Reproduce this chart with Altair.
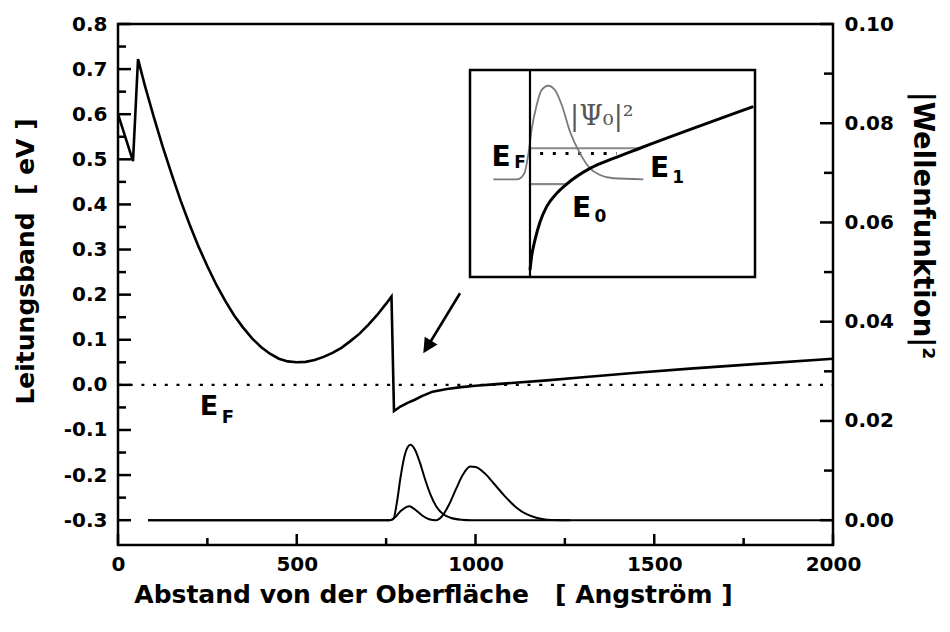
import altair as alt
import pandas as pd

# ---------------- data ----------------
# conduction band edge (left axis, eV) vs distance (Angstrom)
band_x = [0, 42, 56, 75, 100, 125, 150, 175, 200, 225, 250, 275, 300, 325, 350, 375, 400,
          425, 450, 475, 500, 525, 550, 575, 600, 625, 650, 675, 700, 725, 750, 765, 772,
          790, 810, 830, 850, 880, 920, 960, 1000, 1050, 1100, 1200, 1300, 1450, 1600, 1800, 2000]
band_y = [0.600, 0.496, 0.722, 0.664, 0.594, 0.528, 0.467, 0.409, 0.356, 0.307, 0.263, 0.222,
          0.186, 0.154, 0.127, 0.103, 0.084, 0.069, 0.058, 0.052, 0.050, 0.051, 0.055, 0.062,
          0.071, 0.082, 0.097, 0.113, 0.133, 0.155, 0.180, 0.196, -0.058, -0.048, -0.040,
          -0.033, -0.025, -0.015, -0.009, -0.005, -0.002, 0.001, 0.004, 0.010, 0.017, 0.027,
          0.036, 0.047, 0.058]

# |wave function|^2 (right axis)
psi0_x = [84, 760, 770, 780, 790, 800, 810, 818, 830, 845, 860, 875, 890, 910, 930, 960, 990, 2000]
psi0_y = [0, 0, 0.0002, 0.0035, 0.0085, 0.0125, 0.0147, 0.0152, 0.0143, 0.0115, 0.0080,
          0.0050, 0.0028, 0.0012, 0.0005, 0.0001, 0, 0]
psi1_x = [84, 760, 775, 790, 805, 815, 830, 850, 870, 890, 905, 925, 945, 965, 985, 1000,
          1025, 1050, 1080, 1110, 1140, 1170, 1200, 1265]
psi1_y = [0, 0, 0.0006, 0.0018, 0.0026, 0.0028, 0.0022, 0.0010, 0.0002, 0.0, 0.0007, 0.0030,
          0.0062, 0.0092, 0.0108, 0.0107, 0.0095, 0.0075, 0.0050, 0.0028, 0.0013, 0.0005,
          0.0001, 0.0]

# Fermi level
ef_level = 0.0

# tick values
x_major = [0, 500, 1000, 1500, 2000]
x_minor = [250, 750, 1250, 1750]
yl_major = [-0.3, -0.2, -0.1, 0.0, 0.1, 0.2, 0.3, 0.4, 0.5, 0.6, 0.7, 0.8]
yl_minor = [-0.25, -0.15, -0.05, 0.05, 0.15, 0.25, 0.35, 0.45, 0.55, 0.65, 0.75]
yr_major = [0.0, 0.02, 0.04, 0.06, 0.08, 0.10]
yr_minor = [0.01, 0.03, 0.05, 0.07, 0.09]

# inset schematic (own units 0..100)
inset_band_x = [21.05, 21.6, 22.8, 24.6, 26.9, 30.4, 33.9, 42.1, 50.3, 59.6, 99.4]
inset_band_y = [3.4, 9.8, 17.9, 26.7, 34.0, 40.4, 44.9, 52.5, 57.3, 62.2, 82.3]
inset_psi_x = [8.2, 16.4, 18.1, 19.3, 20.5, 21.6, 23.4, 25.1, 27.5, 29.8, 32.2, 35.1, 38.6,
               42.1, 45.6, 50.3, 60.8]
inset_psi_y = [47.2, 47.2, 48.2, 50.9, 59.7, 71.0, 83.1, 90.3, 92.4, 90.3, 83.1, 70.2, 59.7,
               52.5, 49.3, 47.7, 47.2]
inset_wall_x = 21.05
inset_level_y = [62.2, 44.9]
inset_level_end = [59.6, 33.9]
inset_dot_y = 59.7
inset_dot_x = [24.6, 51.5]

# ---------------- styling ----------------
SANS = "DejaVu Sans"
SERIF = "DejaVu Serif"
W, H = 715, 521
X_DOM = [0, 2000]
YL_DOM = [-0.355, 0.8]
YR_DOM = [-0.005, 0.1]

xs = alt.Scale(domain=X_DOM, nice=False, zero=False)
yls = alt.Scale(domain=YL_DOM, nice=False, zero=False)
yrs = alt.Scale(domain=YR_DOM, nice=False, zero=False)
ixs = alt.Scale(domain=[0, 100], range=[352, 637], nice=False, zero=False)
iys = alt.Scale(domain=[0, 100], range=[253, 46], nice=False, zero=False)

lab = dict(labelFont=SANS, labelFontWeight="bold", labelFontSize=20, labelColor="black",
           ticks=False, tickSize=0, domain=False, grid=False,
           titleFont=SANS, titleFontWeight="bold", titleColor="black")

x_axis = alt.Axis(values=x_major, format="d", labelFlush=False, labelOverlap=False,
                  labelPadding=9,
                  title="Abstand von der Oberfläche\u00a0\u00a0\u00a0[ Angström ]",
                  titleFontSize=25, titleX=315, titleY=57, titleAlign="center",
                  titleBaseline="alphabetic", titleAngle=0, **lab)
yl_axis = alt.Axis(values=yl_major, orient="left", labelPadding=11,
                   labelExpr="datum.value < 0 ? '-' + format(-datum.value, '.1f') : format(datum.value, '.1f')",
                   title="Leitungsband\u00a0\u00a0[ eV ]", titleFontSize=25, titleX=-85, titleY=237,
                   titleAlign="center", titleBaseline="alphabetic", titleAngle=270,
                   labelOverlap=False, **lab)
yr_axis = alt.Axis(values=yr_major, orient="right", format=".2f", labelPadding=11,
                   title="|Wellenfunktion|²", titleFontSize=27.5, titleX=80, titleY=201,
                   titleAlign="center", titleBaseline="alphabetic", titleAngle=90,
                   labelOverlap=False, **lab)

XL = lambda f="x": alt.X(f + ":Q", scale=xs, axis=x_axis)
YL = lambda f="y": alt.Y(f + ":Q", scale=yls, axis=yl_axis)
XR = lambda f="x": alt.X(f + ":Q", scale=xs, axis=None)
YR = lambda f="y": alt.Y(f + ":Q", scale=yrs, axis=yr_axis)
XI = lambda f="x": alt.X(f + ":Q", scale=ixs, axis=None)
YI = lambda f="y": alt.Y(f + ":Q", scale=iys, axis=None)

# ---------------- left-axis layer ----------------
band_df = pd.DataFrame({"x": band_x, "y": band_y, "i": list(range(len(band_x)))})
band = alt.Chart(band_df).mark_line(color="black", strokeWidth=2.6, strokeJoin="miter").encode(
    x=XL(), y=YL(), order="i:Q")

ef_df = pd.DataFrame({"x": [X_DOM[0]], "x2": [X_DOM[1]], "y": [ef_level]})
ef_line = alt.Chart(ef_df).mark_rule(color="black", strokeWidth=2.2, strokeDash=[3, 8.7]).encode(
    x=XL(), x2="x2:Q", y=YL())

lt_major = alt.Chart(pd.DataFrame({"y": yl_major})).mark_rule(color="black", strokeWidth=2.5).encode(
    y=YL(), x=alt.value(0), x2=alt.value(13))
lt_minor = alt.Chart(pd.DataFrame({"y": yl_minor})).mark_rule(color="black", strokeWidth=2.5).encode(
    y=YL(), x=alt.value(0), x2=alt.value(8))
bt_major = alt.Chart(pd.DataFrame({"x": x_major})).mark_rule(color="black", strokeWidth=2.5).encode(
    x=XL(), y=alt.value(H), y2=alt.value(H - 11))
bt_minor = alt.Chart(pd.DataFrame({"x": x_minor})).mark_rule(color="black", strokeWidth=2.5).encode(
    x=XL(), y=alt.value(H), y2=alt.value(H - 7))

main_labels = pd.DataFrame({
    "x": [229.0, 290.0],
    "y": [-0.0668, -0.0852],
    "t": ["E", "F"],
    "s": [27, 18],
})
main_text = alt.Chart(main_labels).mark_text(font=SANS, fontWeight="bold", color="black",
                                             align="left", baseline="alphabetic").encode(
    x=XL(), y=YL(), text="t:N", size=alt.Size("s:Q", scale=None, legend=None))

arrow_df = pd.DataFrame({"x": [956.6], "y": [0.203], "x2": [866.0], "y2": [0.085]})
arrow_line = alt.Chart(arrow_df).mark_rule(color="black", strokeWidth=2.6).encode(
    x=XL(), y=YL(), x2="x2:Q", y2="y2:Q")
head_df = pd.DataFrame({"x": [864.9], "y": [0.084]})
arrow_head = alt.Chart(head_df).mark_point(shape="M0,-1L1,1L-1,1Z", filled=True, size=225,
                                           angle=211.5, color="black", opacity=1,
                                           strokeWidth=0).encode(x=XL(), y=YL())

left = alt.layer(band, ef_line, lt_major, lt_minor, bt_major, bt_minor, main_text,
                 arrow_line, arrow_head)

# ---------------- right-axis layer ----------------
p0 = alt.Chart(pd.DataFrame({"x": psi0_x, "y": psi0_y})).mark_line(
    color="black", strokeWidth=2.0, interpolate="monotone").encode(x=XR(), y=YR())
p1 = alt.Chart(pd.DataFrame({"x": psi1_x, "y": psi1_y})).mark_line(
    color="black", strokeWidth=2.0, interpolate="monotone").encode(x=XR(), y=YR())
rt_major = alt.Chart(pd.DataFrame({"y": yr_major})).mark_rule(color="black", strokeWidth=2.5).encode(
    y=YR(), x=alt.value(W), x2=alt.value(W - 13))
rt_minor = alt.Chart(pd.DataFrame({"y": yr_minor})).mark_rule(color="black", strokeWidth=2.5).encode(
    y=YR(), x=alt.value(W), x2=alt.value(W - 9))
right = alt.layer(p0, p1, rt_major, rt_minor)

# ---------------- inset ----------------
box = alt.Chart(pd.DataFrame({"x": [0], "x2": [100], "y": [0], "y2": [100]})).mark_rect(
    fill="white", stroke="black", strokeWidth=2.5).encode(x=XI(), x2="x2:Q", y=YI(), y2="y2:Q")
wall = alt.Chart(pd.DataFrame({"x": [inset_wall_x], "y": [0], "y2": [100]})).mark_rule(
    color="black", strokeWidth=2.2).encode(x=XI(), y=YI(), y2="y2:Q")
lev = alt.Chart(pd.DataFrame({"x": [inset_wall_x, inset_wall_x], "x2": inset_level_end,
                              "y": inset_level_y})).mark_rule(
    color="#8a8a8a", strokeWidth=2.2).encode(x=XI(), x2="x2:Q", y=YI())
dots = alt.Chart(pd.DataFrame({"x": [inset_dot_x[0]], "x2": [inset_dot_x[1]], "y": [inset_dot_y]})).mark_rule(
    color="black", strokeWidth=3, strokeDash=[3, 9.7]).encode(x=XI(), x2="x2:Q", y=YI())
ipsi = alt.Chart(pd.DataFrame({"x": inset_psi_x, "y": inset_psi_y})).mark_line(
    color="#7a7a7a", strokeWidth=1.8, interpolate="monotone").encode(x=XI(), y=YI())
iband = alt.Chart(pd.DataFrame({"x": inset_band_x, "y": inset_band_y})).mark_line(
    color="black", strokeWidth=3, interpolate="monotone").encode(x=XI(), y=YI())
inset_labels = pd.DataFrame({
    "x": [7.5, 15.5, 63.2, 71.0, 35.8, 43.7],
    "y": [53.8, 52.5, 48.5, 45.3, 29.1, 26.7],
    "t": ["E", "F", "E", "1", "E", "0"],
    "s": [28, 17, 28, 17, 28, 17],
})
itext = alt.Chart(inset_labels).mark_text(font=SANS, fontWeight="bold", color="black",
                                          align="left", baseline="alphabetic").encode(
    x=XI(), y=YI(), text="t:N", size=alt.Size("s:Q", scale=None, legend=None))
psi_label = alt.Chart(pd.DataFrame({"x": [35.1], "y": [73.4], "t": ["|Ψ₀|²"]})).mark_text(
    font=SERIF, fontSize=27, color="#555555", align="left", baseline="alphabetic").encode(
    x=XI(), y=YI(), text="t:N")
inset = alt.layer(box, lev, dots, ipsi, wall, iband, itext, psi_label)

chart = alt.layer(left, right, inset).resolve_scale(
    x="independent", y="independent", size="independent"
).properties(
    width=W, height=H,
    padding={"left": 118, "top": 24, "right": 950 - 118 - W, "bottom": 632 - 24 - H},
    autosize=alt.AutoSizeParams(type="none"),
    background="white",
).configure_view(stroke="black", strokeWidth=2.5)

chart.save("out.html", embed_options={"renderer": "svg", "actions": False})
